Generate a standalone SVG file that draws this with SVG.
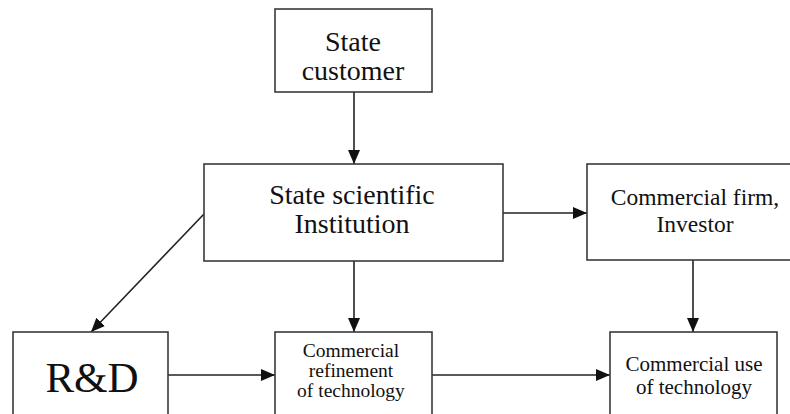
<svg xmlns="http://www.w3.org/2000/svg" width="790" height="414" viewBox="0 0 790 414">
  <style>
    .box { fill: #ffffff; stroke: #3a3a3a; stroke-width: 1.6; }
    .edge { fill: none; stroke: #222222; stroke-width: 1.6; }
    .label { font-family: 'Liberation Serif', 'DejaVu Serif', serif; fill: #111111; text-anchor: middle; }
  </style>
  <defs>
    <marker id="arrow" markerUnits="userSpaceOnUse" markerWidth="14" markerHeight="12" viewBox="0 0 14 12" refX="14" refY="6" orient="auto">
      <path d="M0,0 L14,6 L0,12 Z" fill="#111111"/>
    </marker>
  </defs>
  <rect width="790" height="414" fill="#ffffff"/>

  <g id="connectors">
    <line class="edge" x1="354" y1="92" x2="354" y2="164" marker-end="url(#arrow)"/>
    <line class="edge" x1="503" y1="213" x2="587" y2="213" marker-end="url(#arrow)"/>
    <line class="edge" x1="204" y1="214" x2="91" y2="332" marker-end="url(#arrow)"/>
    <line class="edge" x1="354" y1="261" x2="354" y2="332" marker-end="url(#arrow)"/>
    <line class="edge" x1="693" y1="260" x2="693" y2="332" marker-end="url(#arrow)"/>
    <line class="edge" x1="168" y1="375" x2="275" y2="375" marker-end="url(#arrow)"/>
    <line class="edge" x1="432" y1="375" x2="610" y2="375" marker-end="url(#arrow)"/>
  </g>

  <g id="state-customer">
    <rect class="box" x="275" y="9" width="157" height="83"/>
    <text class="label" x="353" y="51" font-size="28">State</text>
    <text class="label" x="353" y="80" font-size="28">customer</text>
  </g>

  <g id="state-institution">
    <rect class="box" x="204" y="164" width="299" height="97"/>
    <text class="label" x="352" y="204" font-size="28">State scientific</text>
    <text class="label" x="352" y="233" font-size="28">Institution</text>
  </g>

  <g id="commercial-firm">
    <rect class="box" x="587" y="164" width="220" height="96"/>
    <text class="label" x="695" y="205" font-size="23.5">Commercial firm,</text>
    <text class="label" x="695" y="232" font-size="23.5">Investor</text>
  </g>

  <g id="rnd">
    <rect class="box" x="13" y="332" width="155" height="100"/>
    <text class="label" x="92" y="392" font-size="43">R&amp;D</text>
  </g>

  <g id="commercial-refinement">
    <rect class="box" x="275" y="332" width="157" height="100"/>
    <text class="label" x="351" y="357" font-size="19.5">Commercial</text>
    <text class="label" x="351" y="377" font-size="19.5">refinement</text>
    <text class="label" x="351" y="397" font-size="19.5">of technology</text>
  </g>

  <g id="commercial-use">
    <rect class="box" x="610" y="332" width="167" height="100"/>
    <text class="label" x="694" y="371" font-size="21">Commercial use</text>
    <text class="label" x="694" y="394" font-size="21">of technology</text>
  </g>
</svg>
